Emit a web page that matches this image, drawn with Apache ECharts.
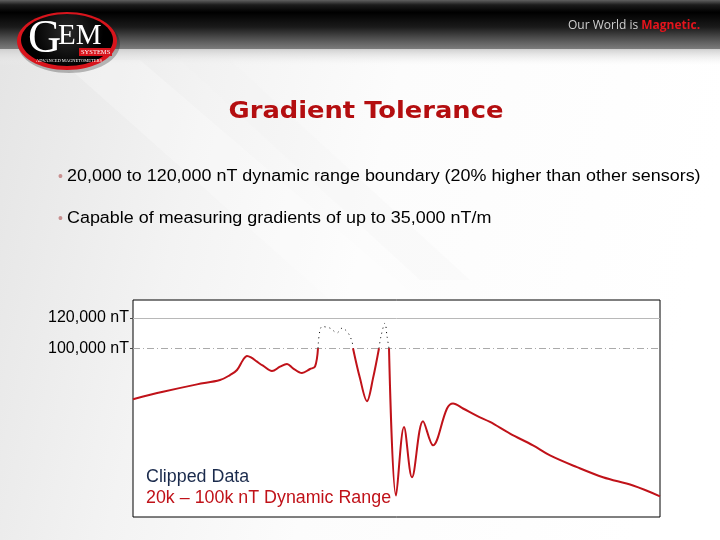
<!DOCTYPE html>
<html>
<head>
<meta charset="utf-8">
<script src="https://cdn.jsdelivr.net/npm/echarts@6/dist/echarts.min.js"></script>
<style>
html,body{margin:0;padding:0;background:#fff;}
#chart{width:720px;height:540px;}
</style>
</head>
<body>
<div id="chart"></div>
<script>
// Position along the survey line (arbitrary sample units) and total field (nT)
const positions = [0,30,64,87,97,104,110,114,118,124,130,139,147,154,160,169,177,182,185,189,197,204,209,215,219,220,227,234,240,246,248,252,254,256,263,271,279,290,300,314,320,330,344,357,377,400,417,444,470,500,527];
const fieldValues = [66200,71070,76000,78870,82200,85530,92200,94870,93870,91070,88400,84870,87730,89530,86670,83530,86200,87730,100000,114400,113330,110200,113330,110200,104400,100000,80000,64870,80000,100000,108000,116670,108000,100000,2200,47730,14400,51530,35530,60000,63330,60000,55070,51070,43330,35530,28870,21070,14400,8870,1730];
const upperBoundary = 120000;
const clipLevel = 100000;
const tickValues = [100000, 120000];

const titleText = 'Gradient Tolerance';
const bullets = [
  '20,000 to 120,000 nT dynamic range boundary (20% higher than other sensors)',
  'Capable of measuring gradients of up to 35,000 nT/m'
];
const noteLine1 = 'Clipped Data';
const noteLine2 = '20k \u2013 100k nT Dynamic Range';

const inRange = positions.map((p, i) => [p, fieldValues[i] <= clipLevel ? fieldValues[i] : null]);
const clipped = positions.map((p, i) => [p, fieldValues[i] >= clipLevel ? fieldValues[i] : null]);

const chart = echarts.init(document.getElementById('chart'), null, {renderer: 'canvas'});

const RED = '#c01219';
const SANS = '"Liberation Sans", Arial, sans-serif';

const graphics = [
  // slide background
  {type:'rect', z:-10, shape:{x:0,y:0,width:720,height:540},
   style:{fill:new echarts.graphic.LinearGradient(0,0,1,0.3,[
     {offset:0,color:'#e4e4e4'},{offset:0.3,color:'#f3f3f3'},{offset:0.55,color:'#fcfcfc'},{offset:1,color:'#ffffff'}])}},
  {type:'polygon', z:-9, shape:{points:[[60,60],[140,60],[420,300],[330,300]]},
   style:{fill:'rgba(255,255,255,0.25)'}},
  {type:'polygon', z:-9, shape:{points:[[180,60],[230,60],[470,280],[420,280]]},
   style:{fill:'rgba(238,238,238,0.2)'}},
  // header band
  {type:'rect', z:-8, shape:{x:0,y:0,width:720,height:49},
   style:{fill:new echarts.graphic.LinearGradient(0,0,0,1,[
     {offset:0,color:'#606060'},{offset:0.1,color:'#1c1c1c'},{offset:0.25,color:'#000000'},
     {offset:0.55,color:'#1a1a1a'},{offset:0.85,color:'#5e5e5e'},{offset:1,color:'#7c7c7c'}])}},
  {type:'rect', z:-8, shape:{x:0,y:49,width:720,height:16},
   style:{fill:new echarts.graphic.LinearGradient(0,0,0,1,[
     {offset:0,color:'#cfcfcf'},{offset:1,color:'rgba(240,240,240,0)'}])}},
  // tagline
  {type:'text', z:5, x:568, y:26,
   style:{text:'{a|Our World is }{b|Magnetic.}', textVerticalAlign:'middle',
     rich:{a:{fill:'#cfcfcf',font:'12px "Open Sans", sans-serif'},
           b:{fill:'#e3141c',font:'bold 12px "Open Sans", sans-serif'}}}},
  // logo
  {type:'ellipse', z:2, shape:{cx:69,cy:44,rx:51,ry:29}, style:{fill:'rgba(0,0,0,0.25)'}},
  {type:'ellipse', z:3, shape:{cx:67,cy:41,rx:50,ry:29}, style:{fill:'#d8141c'}},
  {type:'ellipse', z:4, shape:{cx:67,cy:40,rx:46,ry:26},
   style:{fill:new echarts.graphic.RadialGradient(0.5,0.35,0.7,[{offset:0,color:'#2a2a2a'},{offset:1,color:'#000'}])}},
  {type:'text', z:5, left:28, top:17, style:{text:'G', fill:'#fff', font:'46px "Liberation Serif", serif'}},
  {type:'text', z:5, left:58, top:22, style:{text:'EM', fill:'#fff', font:'29px "Liberation Serif", serif'}},
  {type:'rect', z:5, shape:{x:79,y:48,width:33,height:8}, style:{fill:'#d8141c'}},
  {type:'text', z:6, left:81, top:49, style:{text:'SYSTEMS', fill:'#fff', font:'6.5px "Liberation Serif", serif'}},
  {type:'text', z:6, left:36, top:58, style:{text:'ADVANCED MAGNETOMETERS', fill:'#fff', font:'4.5px "Liberation Serif", serif'}},
  // title
  {type:'text', z:5, x:366, y:112, scaleX:1.12,
   style:{text:titleText, fill:'#b40e10', font:'bold 23px "DejaVu Sans", Verdana, sans-serif', textAlign:'center', textVerticalAlign:'middle'}},
  // bullets
  {type:'text', z:5, x:58, y:177, style:{text:'\u2022', fill:'#c89090', font:'14px '+SANS, textVerticalAlign:'middle'}},
  {type:'text', z:5, x:67, y:177, scaleX:1.12, style:{text:bullets[0], fill:'#000', font:'16px '+SANS, textVerticalAlign:'middle'}},
  {type:'text', z:5, x:58, y:219, style:{text:'\u2022', fill:'#c89090', font:'14px '+SANS, textVerticalAlign:'middle'}},
  {type:'text', z:5, x:67, y:219, scaleX:1.12, style:{text:bullets[1], fill:'#000', font:'16px '+SANS, textVerticalAlign:'middle'}},
  // notes in plot
  {type:'text', z:20, x:146, y:477, scaleX:1.02, style:{text:noteLine1, fill:'#1a2a4c', font:'17.5px '+SANS, textVerticalAlign:'middle'}},
  {type:'text', z:20, x:146, y:498, scaleX:1.02, style:{text:noteLine2, fill:RED, font:'17.5px '+SANS, textVerticalAlign:'middle'}}
];

chart.setOption({
  animation:false,
  backgroundColor:'transparent',
  graphic:graphics,
  grid:{left:133, right:60, top:300, bottom:23, show:true, backgroundColor:'#fff', borderColor:'#000', borderWidth:1},
  xAxis:{type:'value', min:0, max:527, show:false},
  yAxis:{type:'value', min:-12000, max:132000,
    axisLine:{show:false}, splitLine:{show:false},
    axisTick:{show:true, customValues:tickValues, length:3, lineStyle:{color:'#444'}},
    axisLabel:{show:true, customValues:tickValues, margin:4, color:'#000', fontSize:16, fontFamily:'Liberation Sans',
      formatter:v => v.toLocaleString('en-US') + ' nT'}},
  series:[
    {type:'line', name:'field', data:inRange, smooth:0.35, showSymbol:false, connectNulls:false,
     lineStyle:{color:RED, width:2}, z:5,
     markLine:{silent:true, symbol:'none', label:{show:false},
       data:[
         {yAxis:upperBoundary, lineStyle:{color:'#b8b8b8', width:1, type:'solid'}},
         {yAxis:clipLevel, lineStyle:{color:'#aaaaaa', width:1, type:[7,3,1,3]}}
       ]}},
    {type:'line', name:'clipped', data:clipped, smooth:0.35, showSymbol:false, connectNulls:false,
     lineStyle:{color:'#000', width:1, type:[1,4]}, z:6}
  ]
});
</script>
</body>
</html>
